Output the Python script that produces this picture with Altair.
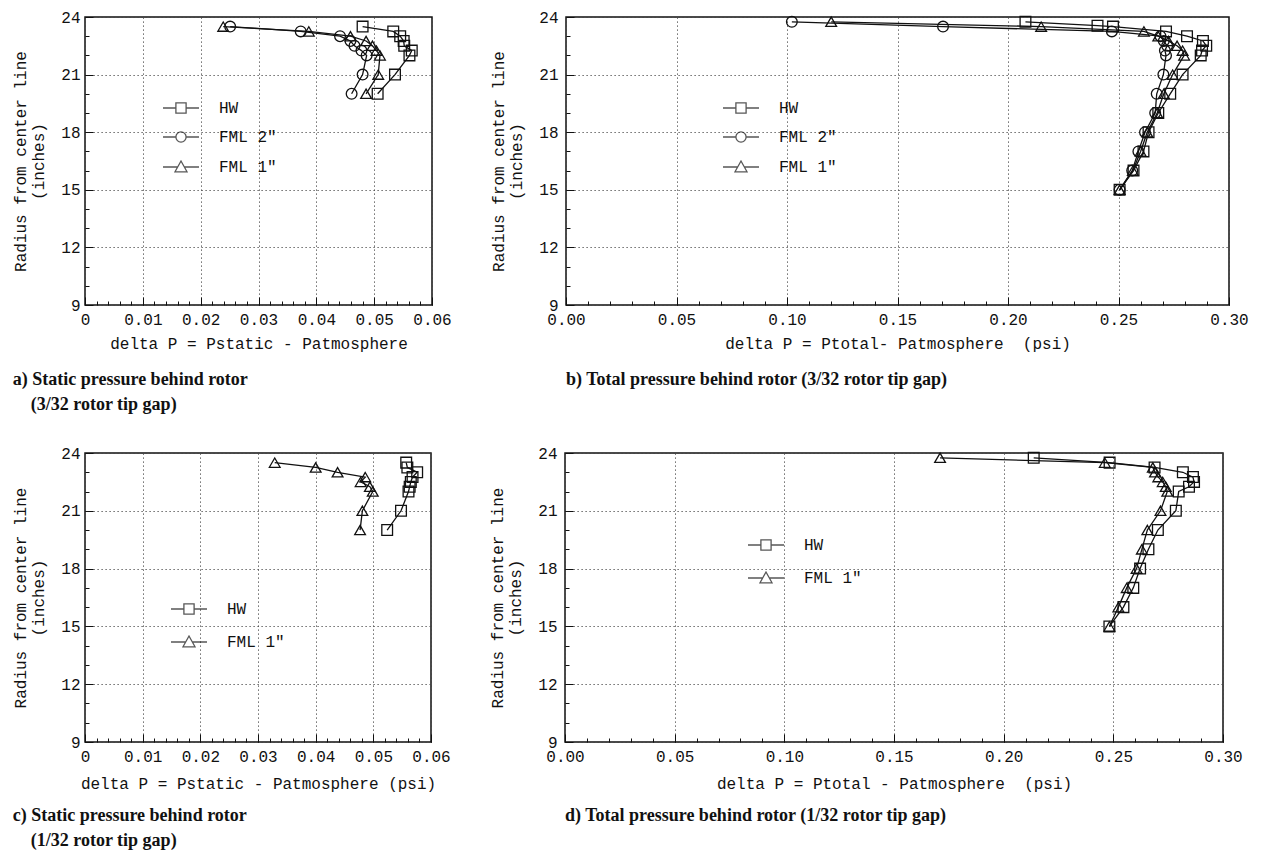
import altair as alt
import pandas as pd

# ---------------- data ----------------
SER3 = ["HW", 'FML 2"', 'FML 1"']
SER2 = ["HW", 'FML 1"']

# a) static pressure, 3/32 gap
a_r = [23.5, 23.25, 23.0, 22.75, 22.5, 22.25, 22.0, 21.0, 20.0]
a_hw = [0.0480, 0.0533, 0.0545, 0.0551, 0.0552, 0.0565, 0.0561, 0.0536, 0.0506]
a_f2 = [0.0251, 0.0373, 0.0441, 0.0459, 0.0466, 0.0478, 0.0487, 0.0480, 0.0461]
a_f1 = [0.0239, 0.0387, 0.0459, 0.0486, 0.0497, 0.0504, 0.0510, 0.0507, 0.0486]

# b) total pressure, 3/32 gap
b_r_hw = [23.75, 23.55, 23.5, 23.25, 23.0, 22.75, 22.5, 22.25, 22.0, 21.0, 20.0, 19.0, 18.0, 17.0, 16.0, 15.0]
b_hw = [0.2079, 0.2405, 0.2475, 0.2715, 0.2810, 0.2882, 0.2897, 0.2878, 0.2872, 0.2790, 0.2734, 0.2680, 0.2636, 0.2613, 0.2568, 0.2505]
b_r = [23.75, 23.5, 23.25, 23.0, 22.75, 22.5, 22.25, 22.0, 21.0, 20.0, 19.0, 18.0, 17.0, 16.0, 15.0]
b_f2 = [0.1022, 0.1706, 0.2470, 0.2690, 0.2705, 0.2720, 0.2710, 0.2715, 0.2703, 0.2673, 0.2666, 0.2620, 0.2590, 0.2562, 0.2505]
b_f1 = [0.1200, 0.2150, 0.2615, 0.2680, 0.2726, 0.2765, 0.2790, 0.2797, 0.2745, 0.2705, 0.2675, 0.2630, 0.2600, 0.2565, 0.2505]

# c) static pressure, 1/32 gap
c_r = [23.5, 23.25, 23.0, 22.75, 22.5, 22.25, 22.0, 21.0, 20.0]
c_hw = [0.0557, 0.0559, 0.0576, 0.0568, 0.0565, 0.0563, 0.0561, 0.0548, 0.0524]
c_f1 = [0.0329, 0.0400, 0.0438, 0.0486, 0.0478, 0.0494, 0.0499, 0.0481, 0.0477]

# d) total pressure, 1/32 gap
d_r = [23.75, 23.5, 23.25, 23.0, 22.75, 22.5, 22.25, 22.0, 21.0, 20.0, 19.0, 18.0, 17.0, 16.0, 15.0]
d_hw = [0.2137, 0.2483, 0.2688, 0.2817, 0.2863, 0.2868, 0.2845, 0.2798, 0.2785, 0.2703, 0.2660, 0.2622, 0.2591, 0.2546, 0.2482]
d_f1 = [0.1710, 0.2461, 0.2680, 0.2690, 0.2705, 0.2725, 0.2739, 0.2746, 0.2715, 0.2655, 0.2630, 0.2606, 0.2561, 0.2523, 0.2482]

# ---------------- styling ----------------
INK = "#111111"
MONO = "Liberation Mono"
SHAPES = {"HW": "square", 'FML 2"': "circle", 'FML 1"': "triangle-up"}
LEG_SHAPES = {
    "HW": "M-3,0H-0.85M0.85,0H3M-0.85,-0.85H0.85V0.85H-0.85Z",
    'FML 2"': "M-3,0H-0.85M0.85,0H3M0.85,0A0.85,0.85,0,1,1,-0.85,0A0.85,0.85,0,1,1,0.85,0Z",
    'FML 1"': "M-3,0H-0.55M0.55,0H3M0,-1L1,0.8H-1Z",
}


def frame(series_list):
    rows = []
    for name, rr, vv in series_list:
        for i, (r, v) in enumerate(zip(rr, vv)):
            rows.append({"series": name, "r": r, "v": v, "idx": i})
    return pd.DataFrame(rows)


def panel(df, series, xmax, xstep, xminor, xlabel_expr, xtitle, caption,
          caption_frame, w, h, legx, legy, rowpad, xtpad, capoff, ylpad):
    nmaj = int(round(xmax / xstep))
    xmajor = [round(i * xstep, 4) for i in range(nmaj + 1)]
    nmin = int(round(xmax / xminor))
    xmin_vals = [round(i * xminor, 4) for i in range(nmin + 1)]
    ymajor = [9, 12, 15, 18, 21, 24]
    yminor = list(range(9, 25))

    xs = alt.Scale(domain=[0, xmax], nice=False, zero=False)
    ys = alt.Scale(domain=[9, 24], nice=False, zero=False)

    base = alt.Chart(df)

    lines = base.mark_line(color=INK, strokeWidth=1.3).encode(
        x=alt.X("v:Q", scale=xs, axis=alt.Axis(
            orient="bottom", values=xmajor, labelExpr=xlabel_expr,
            tickSize=8, offset=-8, domain=False, grid=True,
            gridDash=[1.2, 2.8], gridColor="#444", gridWidth=1,
            labelPadding=6, labelFlush=False, labelOverlap=False,
            title=xtitle, titlePadding=xtpad)),
        y=alt.Y("r:Q", scale=ys, axis=alt.Axis(
            orient="left", values=ymajor, tickSize=8, offset=-8,
            domain=False, grid=True, gridDash=[1.2, 2.8], gridColor="#444",
            gridWidth=1, labelPadding=ylpad, labelFlush=False,
            title=["Radius from center line", "(inches)"],
            titlePadding=14, titleLineHeight=18)),
        detail="series:N",
        order="idx:Q",
    )

    points = base.mark_point(filled=False, size=115, strokeWidth=1.3,
                             color=INK, opacity=1).encode(
        x=alt.X("v:Q", scale=xs, axis=alt.Axis(
            orient="bottom", values=xmin_vals, labels=False, tickSize=4,
            offset=-4, domain=False, grid=False, title=None)),
        y=alt.Y("r:Q", scale=ys, axis=alt.Axis(
            orient="left", values=yminor, labels=False, tickSize=4,
            offset=-4, domain=False, grid=False, title=None)),
        shape=alt.Shape("series:N", scale=alt.Scale(
            domain=series, range=[SHAPES[s] for s in series]), legend=None),
    )

    legend_layer = base.transform_filter("false").mark_point(
        filled=False, color=INK).encode(
        x=alt.X("v:Q", scale=xs, axis=None),
        y=alt.Y("r:Q", scale=ys, axis=None),
        shape=alt.Shape("series:N", scale=alt.Scale(
            domain=series, range=[LEG_SHAPES[s] for s in series]),
            legend=alt.Legend(
                title=None, orient="none", legendX=legx, legendY=legy,
                symbolSize=144, symbolStrokeColor=INK,
                symbolFillColor="transparent", symbolStrokeWidth=1.3,
                labelFont=MONO, labelFontSize=16, labelColor=INK,
                labelOffset=30, rowPadding=rowpad, padding=0)),
    )

    return alt.layer(lines, points, legend_layer).resolve_scale(
        shape="independent").resolve_axis(
        x="independent", y="independent").properties(
        width=w, height=h,
        title=alt.TitleParams(
            text=caption, orient="bottom", anchor="start",
            frame=caption_frame, font="Liberation Serif", fontSize=18,
            fontWeight="bold", color=INK, lineHeight=25, offset=capoff),
    )


LBL0 = "datum.value == 0 ? '0' : format(datum.value, '.2f')"
LBL2 = "format(datum.value, '.2f')"
NB = "\u00a0"
IND = "\u200b" + NB * 4

dfa = frame([("HW", a_r, a_hw), ('FML 2"', a_r, a_f2), ('FML 1"', a_r, a_f1)])
dfb = frame([("HW", b_r_hw, b_hw), ('FML 2"', b_r, b_f2), ('FML 1"', b_r, b_f1)])
dfc = frame([("HW", c_r, c_hw), ('FML 1"', c_r, c_f1)])
dfd = frame([("HW", d_r, d_hw), ('FML 1"', d_r, d_f1)])

pa = panel(dfa, SER3, 0.06, 0.01, 0.002, LBL0,
           "delta P = Pstatic - Patmosphere",
           ["a) Static pressure behind rotor", IND + "(3/32 rotor tip gap)"],
           "bounds", 347, 288, 88, 83, 13, 8, 20, 5)
pb = panel(dfb, SER3, 0.30, 0.05, 0.01, LBL2,
           "delta P = Ptotal- Patmosphere" + NB * 2 + "(psi)",
           "b) Total pressure behind rotor (3/32 rotor tip gap)",
           "group", 663, 288, 167, 83, 13, 8, 20, 8)
pc = panel(dfc, SER2, 0.06, 0.01, 0.002, LBL0,
           "delta P = Pstatic - Patmosphere (psi)",
           ["c) Static pressure behind rotor", IND + "(1/32 rotor tip gap)"],
           "bounds", 346, 289, 96, 148, 16, 11, 16, 5)
pd_ = panel(dfd, SER2, 0.30, 0.05, 0.01, LBL2,
            "delta P = Ptotal - Patmosphere" + NB * 2 + "(psi)",
            "d) Total pressure behind rotor (1/32 rotor tip gap)",
            "group", 658, 289, 193, 84, 16, 11, 16, 8)

chart = alt.vconcat(
    alt.hconcat(pa, pb, spacing=38),
    alt.hconcat(pc, pd_, spacing=38),
    spacing=29,
).properties(
    padding={"left": 4, "top": 0, "right": 2, "bottom": 0},
    background="white",
).configure_view(
    stroke=INK, strokeWidth=1.5,
).configure_axis(
    labelFont=MONO, labelFontSize=16, labelColor=INK,
    titleFont=MONO, titleFontSize=16, titleFontWeight="normal",
    titleColor=INK, tickColor=INK, tickWidth=1,
)

chart.save("out.html", embed_options={"renderer": "svg", "actions": False})
